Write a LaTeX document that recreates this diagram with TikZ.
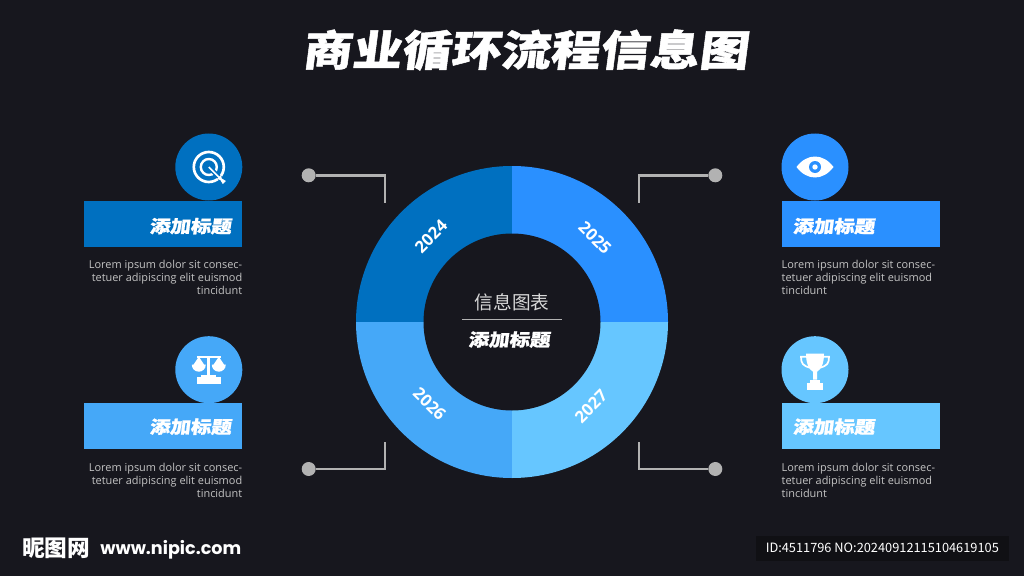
\documentclass[tikz,border=0pt]{standalone}
\usepackage{fontspec}
\usetikzlibrary{positioning}
\setmainfont{Open Sans}
\newfontfamily\cjkplain{Noto Sans CJK SC}
\newfontfamily\cjkhead[FakeSlant=0.13,FakeStretch=1.18,FakeBold=1.2]{Noto Sans CJK SC}
\newfontfamily\wwwfont{Poppins}
\definecolor{bgdark}{HTML}{17171E}
\definecolor{boxdark}{HTML}{101014}
\definecolor{blueA}{HTML}{0070C0}
\definecolor{blueB}{HTML}{2A90FF}
\definecolor{blueC}{HTML}{45A8F8}
\definecolor{blueD}{HTML}{66C6FF}
\definecolor{leadgray}{HTML}{B2B2B2}
\definecolor{bodygray}{HTML}{C4C4C4}

\begin{document}
\begin{tikzpicture}[x=0.75pt,y=0.75pt,
        iconbub/.style={circle,minimum size=50.25pt,inner sep=0pt},
        barbase/.style={minimum width=118.5pt,minimum height=34.5pt,inner ysep=0pt,inner xsep=8.25pt,
            text width=102pt,text height=13.5pt,text depth=0pt,text=white,font=\cjkhead\bfseries\fontsize{13}{13}\selectfont},
        barleft/.style={barbase,align=right},
        barright/.style={barbase,align=left},
        barlow/.style={text height=10.5pt},
        bodyleft/.style={below left=9.75pt and 0pt of #1.south east,align=right,inner sep=0pt,text=bodygray,
            font=\fontsize{8.2}{9.75}\selectfont},
        bodyright/.style={below right=9.75pt and 0pt of #1.south west,align=left,inner sep=0pt,text=bodygray,
            font=\fontsize{8.2}{9.75}\selectfont},
        dot/.style={circle,fill=leadgray,minimum size=10.5pt,inner sep=0pt},
        lead/.style={draw=leadgray,line width=1.9pt},
        yearlab/.style={text=white,font=\bfseries\fontsize{12.5}{12.5}\selectfont},
        ico/.style={fill=white,draw=none}]
        \useasboundingbox (0,0) rectangle (1024,576);
        \fill[bgdark] (0,0) rectangle (1024,576);

        \node[text=white,font=\cjkhead\bfseries\fontsize{31.5}{31.5}\selectfont] (title) at (525,526) {商业循环流程信息图};

        % ring
        \foreach \ang/\col in {90/blueA,0/blueB,180/blueC,270/blueD}
            \fill[\col] (512,254) -- ++(\ang:156) arc[start angle=\ang,delta angle=90,radius=117pt] -- cycle;
        \node[circle,fill=bgdark,minimum size=132.75pt,inner sep=0pt] (hub) at (512,254) {};
        \node[yearlab,rotate=45] (y24) at (431,339.5) {2024};
        \node[yearlab,rotate=-45] (y25) at (595,338) {2025};
        \node[yearlab,rotate=-45] (y26) at (429.5,172) {2026};
        \node[yearlab,rotate=45] (y27) at (591,169.5) {2027};
        \node[text=white!85!black,font=\cjkplain\fontsize{14}{14}\selectfont] (hubtop) at (512,274) {信息图表};
        \node[text=white,font=\cjkhead\bfseries\fontsize{13}{13}\selectfont] (hubsub) at (509,236.5) {添加标题};
        \coordinate (ruleL) at (462,256.3);
        \coordinate (ruleR) at (562,256.3);
        \draw[leadgray,line width=0.8pt] (ruleL) -- (ruleR);

        % left side
        \node[iconbub,fill=blueA] (bubA) at (208.8,409) {};
        \node[barleft,fill=blueA] (barA) at (163.2,352.3) {添加标题};
        \node[bodyleft=barA] (txtA) {Lorem ipsum dolor sit consec-\\tetuer adipiscing elit euismod\\tincidunt};
        \node[iconbub,fill=blueC] (bubC) at (208.8,206.3) {};
        \node[barleft,barlow,fill=blueC] (barC) at (163.2,149.7) {添加标题};
        \node[bodyleft=barC] (txtC) {Lorem ipsum dolor sit consec-\\tetuer adipiscing elit euismod\\tincidunt};

        % right side
        \node[iconbub,fill=blueB] (bubB) at (815,409) {};
        \node[barright,fill=blueB] (barB) at (860.7,352.3) {添加标题};
        \node[bodyright=barB] (txtB) {Lorem ipsum dolor sit consec-\\tetuer adipiscing elit euismod\\tincidunt};
        \node[iconbub,fill=blueD] (bubD) at (815,206.3) {};
        \node[barright,barlow,fill=blueD] (barD) at (860.7,149.7) {添加标题};
        \node[bodyright=barD] (txtD) {Lorem ipsum dolor sit consec-\\tetuer adipiscing elit euismod\\tincidunt};

        % leads
        \node[dot] (dotA) at (308.7,400.7) {};
        \node[dot] (dotB) at (715.3,400.7) {};
        \node[dot] (dotC) at (308.7,107) {};
        \node[dot] (dotD) at (715.3,107) {};
        \coordinate (endA) at (385,373);
        \coordinate (endB) at (639,373);
        \coordinate (endC) at (385,134);
        \coordinate (endD) at (639,134);
        \draw[lead] (dotA) -| (endA);
        \draw[lead] (dotB) -| (endB);
        \draw[lead] (dotC) -| (endC);
        \draw[lead] (dotD) -| (endD);

        % target icon
        \begin{scope}[shift={(bubA.center)}]
            \draw[white,line width=2pt] (0,0) circle (15);
            \draw[white,line width=1.8pt] (0,0) circle (8);
            \draw[blueA,line width=3.5pt] (4,-4) -- (13,-13);
            \draw[white,line width=1.2pt] (0,0) -- (11,-11);
            \fill[white] (8,-12) -- (12,-8) -- (13,-11.5) -- (17,-14) -- (14,-17) -- (11.5,-13) -- cycle;
        \end{scope}

        % eye icon
        \begin{scope}[shift={(bubB.center)}]
            \fill[ico] (-18.5,0) .. controls (-8,14) and (8,14) .. (18.5,0) .. controls (8,-14) and (-8,-14) .. (-18.5,0) -- cycle;
            \fill[blueB] (0,0) circle (6);
            \fill[white] (0,0) circle (2.7);
        \end{scope}

        % scales icon
        \begin{scope}[shift={(bubC.center)}]
            \fill[ico] (-1.5,13) rectangle (1.5,-7);
            \draw[white,line width=1.1pt] (-12,12.5) -- (12,12.5);
            \fill[ico] (-10,13) -- (-4,4) -- (-16,4) -- cycle;
            \fill[ico] (10,13) -- (16,4) -- (4,4) -- cycle;
            \fill[ico] (-17,5) -- (-3,5) arc[start angle=0,end angle=-180,radius=5.25pt] -- cycle;
            \fill[ico] (3,5) -- (17,5) arc[start angle=0,end angle=-180,radius=5.25pt] -- cycle;
            \fill[ico] (-7.5,-5) rectangle (7.5,-8);
            \fill[ico] (-12,-7.5) rectangle (12,-14);
        \end{scope}

        % trophy icon
        \begin{scope}[shift={(bubD.center)}]
            \draw[white,line width=1.3pt] (-9,13) -- (-14,13) .. controls (-14,6) and (-12,4) .. (-5,2);
            \draw[white,line width=1.3pt] (9,13) -- (14,13) .. controls (14,6) and (12,4) .. (5,2);
            \fill[ico] (-9,16) -- (9,16) .. controls (9,6) and (6,0) .. (2,-2) -- (2,-10) -- (-2,-10) -- (-2,-2) .. controls (-6,0) and (-9,6) .. (-9,16) -- cycle;
            \fill[ico] (-5,-10) rectangle (5,-13);
            \fill[ico] (-8,-13) rectangle (8,-20);
        \end{scope}

        % watermark
        \node[text=white,anchor=west,inner sep=0pt,font=\cjkplain\bfseries\fontsize{17}{17}\selectfont] (logo) at (22,28) {昵图网};
        \node[text=white,anchor=west,inner sep=0pt,font=\wwwfont\bfseries\fontsize{13.2}{13.2}\selectfont] (site) at (100,26.5) {www.nipic.com};
        \node[fill=boxdark,minimum width=190pt,minimum height=18.75pt,inner sep=0pt,text=white,font=\cjkplain\fontsize{9.6}{9.6}\selectfont] (idbox) at (882.3,27.8) {ID:4511796 NO:20240912115104619105};
    \end{tikzpicture}
\end{document}
